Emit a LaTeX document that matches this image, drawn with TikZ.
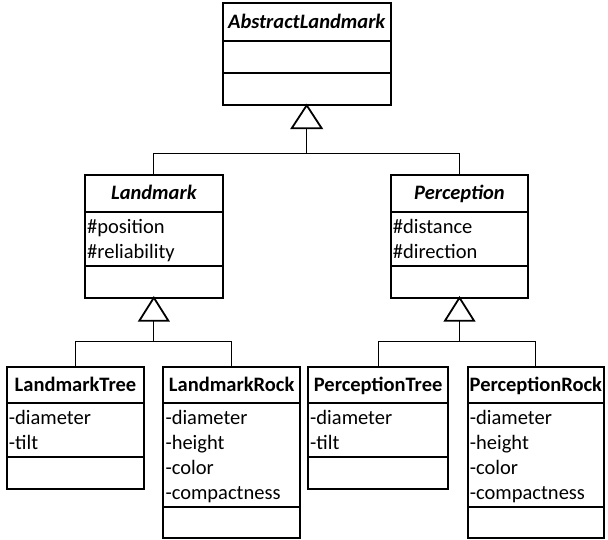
\documentclass[tikz,border=0pt]{standalone}
\usepackage{fontspec}
\setmainfont{Carlito}
\usetikzlibrary{calc}
\tikzset{
  classbox/.style={draw, line width=2pt, rectangle, inner sep=0pt, outer sep=0pt},
  classline/.style={line width=2pt},
  titletext/.style={inner sep=0pt, anchor=base, font=\fontsize{20.5}{25}\selectfont\bfseries},
  abstracttext/.style={titletext, font=\fontsize{20.5}{25}\selectfont\bfseries\itshape},
  attrtext/.style={inner sep=0pt, anchor=base west, font=\fontsize{20.5}{25}\selectfont},
  assoc/.style={line width=1.1pt},
  inhtri/.style={line width=1.8pt, fill=white}
}
% name, x1, x2, ytop, yd1, yd2, ybot, title style, title
\newcommand\umlclass[9]{%
  \node[classbox, minimum width={#3-#2}, minimum height={#7-#4}] (#1) at ({(#2+#3)/2},{(#4+#7)/2}) {};
  \draw[classline] (#2,#5) -- (#3,#5);
  \draw[classline] (#2,#6) -- (#3,#6);
  \node[#8] (#1-t) at ({(#2+#3)/2},{(#4+#5)/2+6.6}) {#9};
}
% name, x1, yd1, list
\newcommand\umlattrs[4]{%
  \foreach \a [count=\i] in {#4} {
    \node[attrtext] (#1-a\i) at ({#2+2},{#3+21.5+25*(\i-1)}) {\a};
  }
}
\begin{document}
\begin{tikzpicture}[x=1pt,y=-1pt]
\useasboundingbox (0,0) rectangle (608,539);

\umlclass{al}{222.7}{390.7}{3.3}{41}{72.7}{105.3}{abstracttext}{AbstractLandmark}

\umlclass{lm}{85}{222.7}{174.7}{212}{266}{297.7}{abstracttext}{Landmark}
\umlattrs{lm}{85}{212}{\#position,\#reliability}

\umlclass{pc}{390.7}{528.3}{174.7}{212}{266}{297.7}{abstracttext}{Perception}
\umlattrs{pc}{390.7}{212}{\#distance,\#direction}

\umlclass{lt}{6.7}{144.3}{366.7}{403.3}{457.3}{489.3}{titletext}{LandmarkTree}
\umlattrs{lt}{6.7}{403.3}{-diameter,-tilt}

\umlclass{lr}{163.3}{300}{366.7}{403.3}{507}{537.5}{titletext}{LandmarkRock}
\umlattrs{lr}{163.3}{403.3}{-diameter,-height,-color,-compactness}

\umlclass{pt}{308}{448.3}{366.7}{403.3}{457.3}{489.3}{titletext}{PerceptionTree}
\umlattrs{pt}{308}{403.3}{-diameter,-tilt}

\umlclass{pr}{467.7}{604}{366.7}{403.3}{507}{537.5}{titletext}{PerceptionRock}
\umlattrs{pr}{467.7}{403.3}{-diameter,-height,-color,-compactness}

% junction coordinates
\coordinate (altri) at ($(al.south)+(0,23)$);
\coordinate (albar) at (306.7,153.3);
\coordinate (lmtri) at ($(lm.south)+(0,23)$);
\coordinate (lmbar) at ($(lm.south)+(0,44)$);
\coordinate (pctri) at ($(pc.south)+(0,23)$);
\coordinate (pcbar) at ($(pc.south)+(0,44)$);

% top level inheritance
\draw[assoc] (lm.north) |- (albar) -| (pc.north);
\draw[assoc] (altri) -- (albar);
\draw[inhtri] (al.south) -- ++(-15,23) -- ++(30,0) -- cycle;

% Landmark children
\draw[assoc] (lt.north) |- (lmbar) -| (lr.north);
\draw[assoc] (lmtri) -- (lmbar);
\draw[inhtri] (lm.south) -- ++(-14.5,23) -- ++(29,0) -- cycle;

% Perception children
\draw[assoc] (pt.north) |- (pcbar) -| (pr.north);
\draw[assoc] (pctri) -- (pcbar);
\draw[inhtri] (pc.south) -- ++(-14.5,23) -- ++(29,0) -- cycle;
\end{tikzpicture}
\end{document}
